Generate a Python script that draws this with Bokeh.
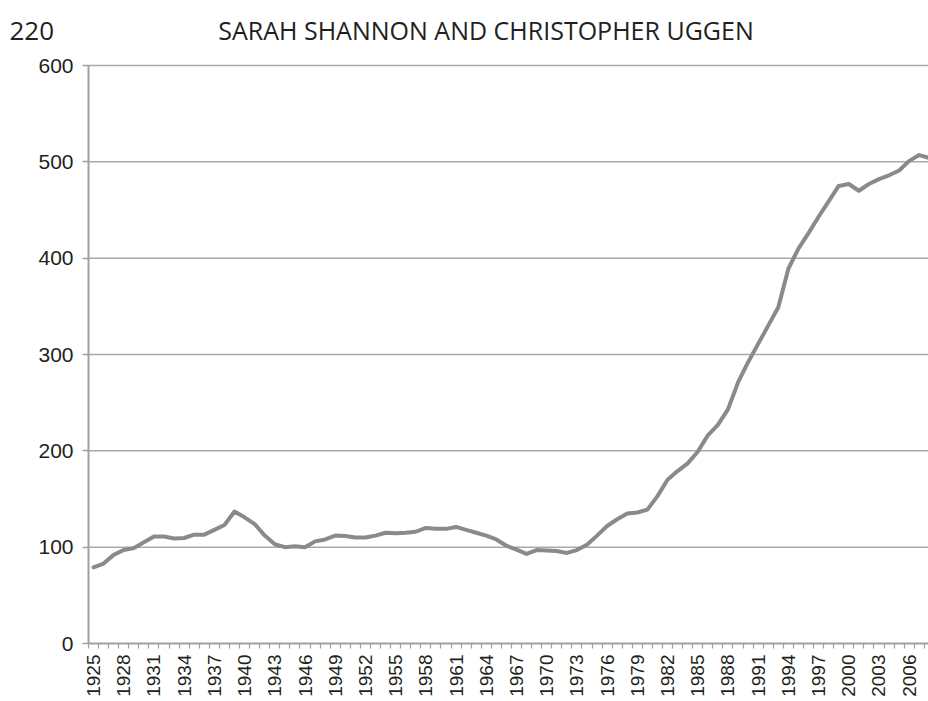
from bokeh.plotting import figure
from bokeh.models import Range1d, FixedTicker
from bokeh.core.properties import value
from bokeh.embed import file_html
from bokeh.resources import INLINE
from math import pi

# ---- data ----
years = list(range(1925, 2009))
values = [79, 83, 92, 97, 99, 105, 111, 111, 109, 109.5,
          113, 113, 118, 123, 137, 131, 124, 112, 103, 100,
          101, 100, 106, 108, 112, 111.5, 110, 110, 112, 115,
          114.5, 115, 116, 120, 119, 119, 121, 118, 115, 112,
          108, 101.5, 97.5, 93, 97, 96.5, 96, 94, 97, 102.5,
          112, 122, 129, 135, 136, 139, 153, 170, 179, 187,
          199, 216, 227, 243, 271, 292, 311, 330, 349, 389,
          410, 426, 443, 459, 475, 477, 470, 477, 482, 486,
          491, 501, 507, 504]
label_years = list(range(1925, 2008, 3))
y_ticks = [0, 100, 200, 300, 400, 500, 600]
page_number = "220"
running_head = "SARAH SHANNON AND CHRISTOPHER UGGEN"

# ---- layout constants (pixels) ----
W, H = 928, 701
AX_LEFT = 88        # where the value axis sits
AX_TOP = 65         # pixel row of the 600 line
AX_BOTTOM = 643     # pixel row of the 0 line
px_per_year = 10.07
px_per_unit = (AX_BOTTOM - AX_TOP) / (y_ticks[-1] - y_ticks[0])

x0 = years[0] - 0.5                       # left edge of the category band
XS = x0 - AX_LEFT / px_per_year           # canvas left
XE = x0 + (W - AX_LEFT) / px_per_year     # canvas right
YS = y_ticks[0] - (H - AX_BOTTOM) / px_per_unit
YE = y_ticks[-1] + AX_TOP / px_per_unit

text_col = "#231f20"
axis_gray = "#a0a0a4"
grid_gray = "#a9a9ad"

p = figure(width=W, height=H, output_backend="svg", toolbar_location=None,
           x_range=Range1d(XS, XE), y_range=Range1d(YS, YE),
           min_border=0, min_border_left=0, min_border_right=0,
           min_border_top=0, min_border_bottom=0,
           background_fill_color="white", border_fill_color="white")
p.outline_line_color = None
p.grid.visible = False

# horizontal grid lines (from the tick values)
gy = y_ticks[1:]
p.segment(x0=[x0] * len(gy), y0=gy, x1=[XE] * len(gy), y1=gy,
          line_color=grid_gray, line_width=1.5)

# data line
p.line(years, values, line_color="#8a8a8c", line_width=4,
       line_join="round", line_cap="round")

# value axis, fixed at the left edge of the category band
p.yaxis.fixed_location = x0
p.yaxis.bounds = (y_ticks[0], y_ticks[-1])
p.yaxis.ticker = FixedTicker(ticks=y_ticks, minor_ticks=[])
p.yaxis.axis_line_color = axis_gray
p.yaxis.axis_line_width = 2
p.yaxis.major_tick_line_color = axis_gray
p.yaxis.major_tick_line_width = 1.5
p.yaxis.major_tick_out = 6
p.yaxis.major_tick_in = 0
p.yaxis.minor_tick_line_color = None
p.yaxis.major_label_standoff = 9
p.yaxis.major_label_text_font = "Liberation Sans"
p.yaxis.major_label_text_font_size = "21px"
p.yaxis.major_label_text_color = text_col

# year axis, fixed at value 0
boundaries = [y - 0.5 for y in years]
p.xaxis.fixed_location = y_ticks[0]
p.xaxis.bounds = (x0, XE)
p.xaxis.ticker = FixedTicker(ticks=label_years, minor_ticks=boundaries)
p.xaxis.major_label_overrides = {y: str(y) for y in label_years}
p.xaxis.axis_line_color = axis_gray
p.xaxis.axis_line_width = 2
p.xaxis.major_tick_line_color = None
p.xaxis.major_tick_out = 0
p.xaxis.major_tick_in = 0
p.xaxis.minor_tick_line_color = axis_gray
p.xaxis.minor_tick_line_width = 1.2
p.xaxis.minor_tick_out = 5
p.xaxis.minor_tick_in = 0
p.xaxis.major_label_orientation = pi / 2
p.xaxis.major_label_standoff = 6
p.xaxis.major_label_text_font = "Liberation Sans"
p.xaxis.major_label_text_font_size = "19px"
p.xaxis.major_label_text_color = text_col

# running header
p.text(x=[XS + 9 / px_per_year], y=[YE - 30.3 / px_per_unit], text=[page_number],
       text_font=value("Open Sans"), text_font_size="26px", text_color=text_col,
       text_align="left", text_baseline="alphabetic")
p.text(x=[XS + 485.5 / px_per_year], y=[YE - 29.3 / px_per_unit], text=[running_head],
       text_font=value("Open Sans"), text_font_size="25px", text_color=text_col,
       text_align="center", text_baseline="alphabetic")

open("out.html", "w").write(file_html(p, INLINE))
